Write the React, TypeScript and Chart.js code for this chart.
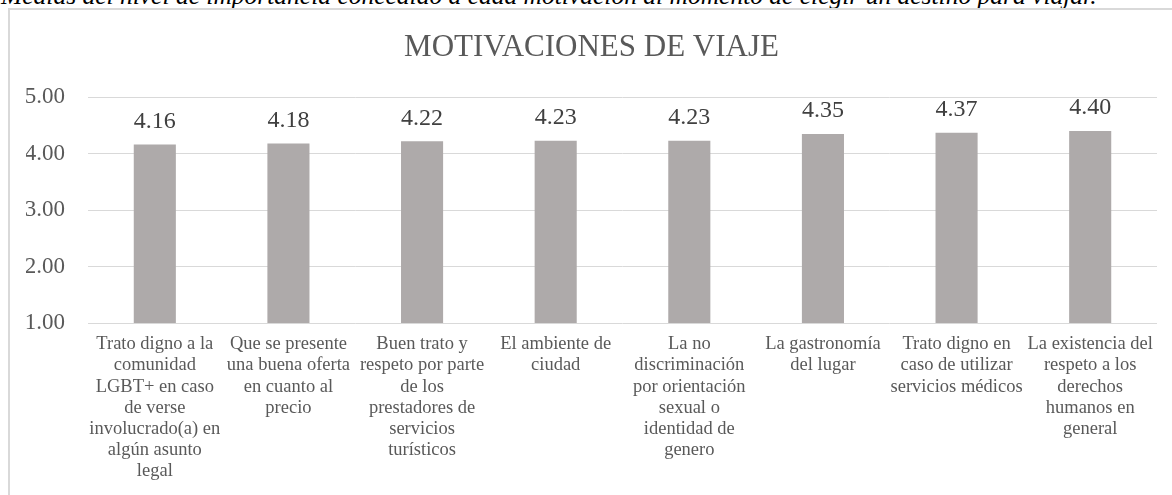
import React, { useEffect, useRef } from "react";
import { Chart, registerables } from "chart.js";

Chart.register(...registerables);

const CAPTION =
  "Medias del nivel de importancia concedido a cada motivación al momento de elegir un destino para viajar.";
const TITLE = "MOTIVACIONES DE VIAJE";

const CATEGORIES: string[][] = [
  ["Trato digno a la", "comunidad", "LGBT+ en caso", "de verse", "involucrado(a) en", "algún asunto", "legal"],
  ["Que se presente", "una buena oferta", "en cuanto al", "precio"],
  ["Buen trato y", "respeto por parte", "de los", "prestadores de", "servicios", "turísticos"],
  ["El ambiente de", "ciudad"],
  ["La no", "discriminación", "por orientación", "sexual o", "identidad de", "genero"],
  ["La gastronomía", "del lugar"],
  ["Trato digno en", "caso de utilizar", "servicios médicos"],
  ["La existencia del", "respeto a los", "derechos", "humanos en", "general"],
];

const VALUES: number[] = [4.16, 4.18, 4.22, 4.23, 4.23, 4.35, 4.37, 4.4];

const Y_TICKS: number[] = [1, 2, 3, 4, 5];

const SERIF = "'Times New Roman', 'Liberation Serif', serif";

const valueLabels = {
  id: "valueLabels",
  afterDatasetsDraw(chart: any) {
    const ctx = chart.ctx;
    const meta = chart.getDatasetMeta(0);
    const data = chart.data.datasets[0].data as number[];
    ctx.save();
    ctx.font = `24px ${SERIF}`;
    ctx.fillStyle = "#404040";
    ctx.textAlign = "center";
    ctx.textBaseline = "middle";
    meta.data.forEach((el: any, i: number) => {
      ctx.fillText(data[i].toFixed(2), el.x, el.y - 23);
    });
    ctx.restore();
  },
};

export default function App() {
  const canvasRef = useRef<HTMLCanvasElement | null>(null);

  useEffect(() => {
    if (!canvasRef.current) return;
    const chart = new Chart(canvasRef.current, {
      type: "bar",
      data: {
        labels: CATEGORIES,
        datasets: [
          {
            data: VALUES,
            backgroundColor: "#AEAAAA",
            borderWidth: 0,
            categoryPercentage: 1,
            barPercentage: 0.315,
          },
        ],
      },
      options: {
        animation: false,
        responsive: false,
        devicePixelRatio: 1,
        layout: { padding: { left: 26, right: 15, top: 0, bottom: 0 } },
        plugins: {
          legend: { display: false },
          tooltip: { enabled: false },
          title: {
            display: true,
            text: TITLE,
            color: "#595959",
            font: { family: SERIF, size: 31, weight: "normal", lineHeight: 1.2 },
            padding: { top: 29, bottom: 31 },
          },
        },
        scales: {
          x: {
            grid: { display: false, drawTicks: false },
            border: { display: false },
            ticks: {
              color: "#595959",
              font: { family: SERIF, size: 18.5, lineHeight: 1.14 },
              padding: 11,
              autoSkip: false,
              maxRotation: 0,
              minRotation: 0,
            },
            afterFit: (s: any) => {
              s.height = 172;
            },
          },
          y: {
            min: 1,
            max: 5,
            grid: { color: "#D9D9D9", lineWidth: 1, drawTicks: false },
            border: { display: false },
            ticks: {
              color: "#595959",
              font: { family: SERIF, size: 23 },
              padding: 23,
              callback: (v: any) => Number(v).toFixed(2),
            },
            afterBuildTicks: (s: any) => {
              s.ticks = Y_TICKS.map((v) => ({ value: v }));
            },
            afterFit: (s: any) => {
              s.width = 62;
            },
          },
        },
      },
      plugins: [valueLabels],
    });
    return () => chart.destroy();
  }, []);

  return (
    <div
      style={{
        position: "fixed",
        left: 0,
        top: 0,
        width: 1172,
        height: 495,
        overflow: "hidden",
        background: "#ffffff",
      }}
    >
      <div
        style={{
          position: "absolute",
          left: 1,
          top: -17,
          whiteSpace: "nowrap",
          fontFamily: SERIF,
          fontStyle: "italic",
          fontSize: 25.5,
          lineHeight: "25.5px",
          color: "#000000",
        }}
      >
        {CAPTION}
      </div>
      <div
        style={{
          position: "absolute",
          left: 8,
          top: 8,
          width: 1200,
          height: 520,
          borderTop: "2px solid #D9D9D9",
          borderLeft: "2px solid #D9D9D9",
          boxSizing: "border-box",
        }}
      />
      <canvas
        ref={canvasRef}
        width={1172}
        height={495}
        style={{ position: "absolute", left: 0, top: 0, width: 1172, height: 495 }}
      />
    </div>
  );
}
